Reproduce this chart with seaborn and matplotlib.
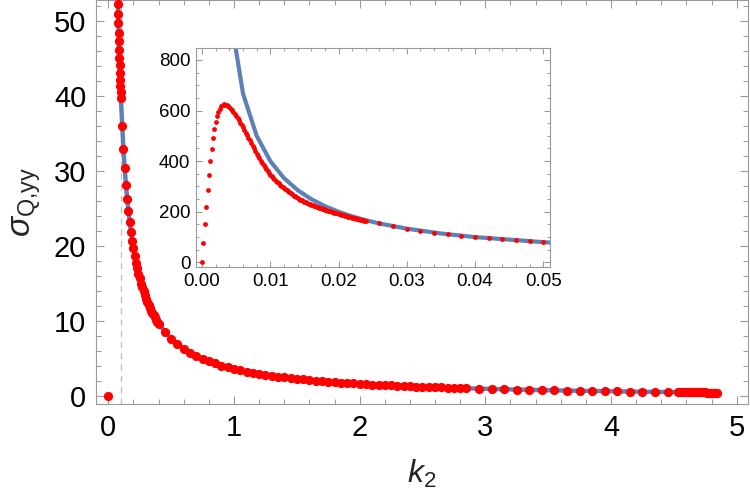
import numpy as np
import matplotlib
matplotlib.use('Agg')
import matplotlib.pyplot as plt
from matplotlib.ticker import MultipleLocator
import seaborn as sns

# ---------------------------------- DATA ----------------------------------#
# fine grid near k2 = 0 (seen in the inset)
k_fine = [
    0.0000, 0.0002, 0.0004, 0.0006, 0.0008, 0.0010, 0.0012, 0.0014, 0.0016, 0.0018,
    0.0020, 0.0022, 0.0024, 0.0026, 0.0028, 0.0030, 0.0032, 0.0034, 0.0036, 0.0038,
    0.0040, 0.0042, 0.0044, 0.0046, 0.0048, 0.0050, 0.0052, 0.0054, 0.0056, 0.0058,
    0.0060, 0.0062, 0.0064, 0.0066, 0.0068, 0.0070, 0.0072, 0.0074, 0.0076, 0.0078,
    0.0080, 0.0082, 0.0084, 0.0086, 0.0088, 0.0090, 0.0092, 0.0094, 0.0096, 0.0098,
    0.0100, 0.0102, 0.0104, 0.0106, 0.0108, 0.0110, 0.0112, 0.0114, 0.0116, 0.0118,
    0.0120, 0.0122, 0.0124, 0.0126, 0.0128, 0.0130, 0.0132, 0.0134, 0.0136, 0.0138,
    0.0140, 0.0142, 0.0144, 0.0146, 0.0148, 0.0150, 0.0152, 0.0154, 0.0156, 0.0158,
    0.0160, 0.0162, 0.0164, 0.0166, 0.0168, 0.0170, 0.0172, 0.0174, 0.0176, 0.0178,
    0.0180, 0.0182, 0.0184, 0.0186, 0.0188, 0.0190, 0.0192, 0.0194, 0.0196, 0.0198,
    0.0200, 0.0202, 0.0204, 0.0206, 0.0208, 0.0210, 0.0212, 0.0214, 0.0216, 0.0218,
    0.0220, 0.0222, 0.0224, 0.0226, 0.0228, 0.0230, 0.0232, 0.0234, 0.0236, 0.0238,
    0.0240]
s_fine = [
    0, 75, 150, 219, 285, 347, 400, 449, 491, 525,
    554, 577, 594, 607, 616, 621, 624, 623, 620, 617,
    612, 607, 601, 595, 587, 578, 570, 561, 552, 543,
    533, 523, 513, 502, 492, 482, 471, 461, 450, 440,
    430, 420, 411, 402, 393, 385, 377, 369, 361, 354,
    347, 341, 335, 329, 323, 317, 312, 307, 302, 297,
    292, 288, 284, 280, 276, 272, 268, 264, 261, 257,
    254, 251, 248, 245, 242, 240, 237, 235, 232, 230,
    228, 226, 223, 221, 219, 217, 215, 213, 211, 209,
    207, 205, 204, 202, 201, 199, 197, 196, 194, 193,
    191, 190, 188, 187, 185, 184, 182, 181, 179, 178,
    176, 175, 174, 172, 171, 170, 168, 167, 166, 164,
    163]

k_mid = [0.026, 0.028, 0.030, 0.032, 0.034, 0.036, 0.038, 0.040, 0.042, 0.044,
         0.046, 0.048, 0.050, 0.052, 0.054, 0.056, 0.058, 0.060, 0.062, 0.064,
         0.066, 0.068, 0.070, 0.072, 0.074, 0.076, 0.078, 0.080, 0.082, 0.084,
         0.086, 0.088, 0.090, 0.092, 0.094, 0.096, 0.098, 0.100]
s_mid = [153.5, 142.5, 133.0, 124.7, 117.3, 110.8, 104.9, 99.7, 94.9, 90.6,
         86.6, 83.0, 79.7, 76.6, 73.7, 71.1, 68.6, 66.3, 64.2, 62.2,
         60.3, 58.5, 56.8, 55.2, 53.7, 52.3, 50.9, 49.7, 48.4, 47.3,
         46.2, 45.1, 44.1, 43.1, 42.2, 41.3, 40.5, 39.7]

k_low = [0.11, 0.12, 0.13, 0.14, 0.15, 0.16, 0.17, 0.18, 0.19, 0.20,
         0.21, 0.22, 0.23, 0.24, 0.25, 0.26, 0.27, 0.28, 0.29, 0.30,
         0.31, 0.32, 0.33, 0.34, 0.35, 0.36, 0.37, 0.38, 0.39, 0.40]
s_low = [36.0, 33.0, 30.4, 28.2, 26.3, 24.7, 23.2, 21.9, 20.7, 19.7,
         18.7, 17.8, 17.1, 16.3, 15.7, 15.0, 14.5, 14.0, 13.5, 13.0,
         12.6, 12.2, 11.8, 11.4, 11.1, 10.8, 10.5, 10.2, 9.92, 9.66]

k_high = [0.45, 0.50, 0.55, 0.60, 0.65, 0.70, 0.75, 0.80, 0.85, 0.90,
          0.95, 1.00, 1.05, 1.10, 1.15, 1.20, 1.25, 1.30, 1.35, 1.40,
          1.45, 1.50, 1.55, 1.60, 1.65, 1.70, 1.75, 1.80, 1.85, 1.90,
          1.95, 2.00, 2.05, 2.10, 2.15, 2.20, 2.25, 2.30, 2.35, 2.40,
          2.45, 2.50, 2.55, 2.60, 2.65, 2.70, 2.75, 2.80, 2.85,
          2.95, 3.05, 3.15, 3.25, 3.35, 3.45, 3.55, 3.65, 3.75, 3.85,
          3.95, 4.05, 4.15, 4.25, 4.35, 4.45]
s_high = [8.55, 7.66, 6.93, 6.33, 5.81, 5.37, 4.99, 4.66, 4.37, 4.10,
          3.87, 3.66, 3.47, 3.30, 3.14, 2.99, 2.86, 2.74, 2.62, 2.52,
          2.42, 2.33, 2.24, 2.16, 2.08, 2.01, 1.95, 1.88, 1.82, 1.77,
          1.71, 1.66, 1.61, 1.56, 1.52, 1.48, 1.44, 1.40, 1.36, 1.33,
          1.29, 1.26, 1.23, 1.20, 1.17, 1.14, 1.11, 1.09, 1.06,
          1.02, 0.97, 0.93, 0.89, 0.85, 0.82, 0.79, 0.76, 0.73, 0.70,
          0.67, 0.65, 0.62, 0.60, 0.58, 0.56]

k_end = [4.53, 4.54, 4.55, 4.56, 4.57, 4.58, 4.59, 4.60, 4.61, 4.62,
         4.63, 4.64, 4.65, 4.66, 4.67, 4.68, 4.69, 4.70, 4.71, 4.72,
         4.73, 4.74, 4.75, 4.76, 4.77, 4.78, 4.79, 4.80, 4.81, 4.82,
         4.83, 4.84]
s_end = [0.543, 0.541, 0.539, 0.537, 0.535, 0.533, 0.531, 0.530, 0.528, 0.526,
         0.524, 0.522, 0.520, 0.518, 0.517, 0.515, 0.513, 0.511, 0.509, 0.507,
         0.506, 0.504, 0.502, 0.500, 0.499, 0.497, 0.495, 0.493, 0.492, 0.490,
         0.488, 0.486]

# asymptotic curve (blue line)
k_asym = [0.004, 0.006, 0.008, 0.010, 0.012, 0.014, 0.016, 0.018, 0.020, 0.022,
          0.024, 0.026, 0.030, 0.035, 0.040, 0.050, 0.060, 0.070, 0.080, 0.090,
          0.100, 0.12, 0.14, 0.16, 0.18, 0.20, 0.25, 0.30, 0.35, 0.40,
          0.50, 0.60, 0.70, 0.80, 1.0, 1.2, 1.5, 2.0, 2.5, 3.0,
          3.5, 4.0, 4.5, 4.84]
s_asym = [999.7, 666.3, 499.7, 399.7, 333.0, 285.4, 249.7, 221.9, 199.7, 181.5,
          166.3, 153.5, 133.0, 114.0, 99.7, 79.7, 66.3, 56.8, 49.7, 44.1,
          39.7, 33.0, 28.2, 24.7, 21.9, 19.7, 15.7, 13.0, 11.1, 9.66,
          7.66, 6.33, 5.37, 4.66, 3.66, 3.0, 2.33, 1.66, 1.26, 0.99,
          0.80, 0.66, 0.55, 0.49]

k_cut = 0.1

# ---------------------------------- STYLE ----------------------------------#
sns.set_style('ticks')
plt.rcParams['font.family'] = ['Liberation Sans', 'DejaVu Sans']
plt.rcParams['mathtext.fontset'] = 'custom'
plt.rcParams['mathtext.it'] = 'Liberation Sans:italic'
plt.rcParams['mathtext.rm'] = 'Liberation Sans'

blue = '#5E81B5'
frame = '#9a9a9a'

k_all = k_fine + k_mid + k_low + k_high + k_end
s_all = s_fine + s_mid + s_low + s_high + s_end


def frame_style(ax, size, major, minor, pad):
    for sp in ax.spines.values():
        sp.set_color(frame)
        sp.set_linewidth(0.8)
    ax.tick_params(which='both', direction='in', top=True, right=True,
                   color=frame, labelcolor='black', labelsize=size, pad=pad)
    ax.tick_params(which='major', length=major, width=0.8)
    ax.tick_params(which='minor', length=minor, width=0.7)


# ---------------------------------- MAIN PLOT ----------------------------------#
fig = plt.figure(figsize=(7.5, 4.94), dpi=100)
ax = fig.add_axes([0.128, 0.1822, 0.8693, 0.8168])

ax.axvline(k_cut, color='#bdbdbd', ls=(0, (5, 4)), lw=0.9, zorder=0)
sns.lineplot(x=k_asym, y=s_asym, ax=ax, color=blue, lw=3.2, errorbar=None, zorder=2)
sns.scatterplot(x=k_all, y=s_all, ax=ax, color='#ff0000', s=44, linewidth=0, zorder=3)

ax.set_xlim(-0.098, 5.09)
ax.set_ylim(-1.03, 52.75)
ax.xaxis.set_major_locator(MultipleLocator(1))
ax.xaxis.set_minor_locator(MultipleLocator(0.2))
ax.yaxis.set_major_locator(MultipleLocator(10))
ax.yaxis.set_minor_locator(MultipleLocator(2))
frame_style(ax, 21, 6, 3.5, 7)
ax.set_xlabel(r'$k_2$', fontsize=23, labelpad=12)
ax.set_ylabel(r'$\sigma_{\mathrm{Q{,}yy}}$', fontsize=24, labelpad=8)

# ---------------------------------- INSET ----------------------------------#
ins = fig.add_axes([0.2613, 0.4595, 0.472, 0.4433])
ins.set_facecolor('white')
sns.lineplot(x=k_asym, y=s_asym, ax=ins, color=blue, lw=3.0, errorbar=None, zorder=2)
sns.scatterplot(x=k_all, y=s_all, ax=ins, color='#ff0000', s=12, linewidth=0, zorder=3)

ins.set_xlim(-0.0009, 0.051)
ins.set_ylim(-18.6, 847)
ins.xaxis.set_major_locator(MultipleLocator(0.01))
ins.xaxis.set_minor_locator(MultipleLocator(0.002))
ins.yaxis.set_major_locator(MultipleLocator(200))
ins.yaxis.set_minor_locator(MultipleLocator(50))
ins.xaxis.set_major_formatter(plt.FormatStrFormatter('%.2f'))
frame_style(ins, 13.5, 4.5, 2.5, 4)
ins.set_xlabel('')
ins.set_ylabel('')

fig.savefig('out.png', dpi=100)
